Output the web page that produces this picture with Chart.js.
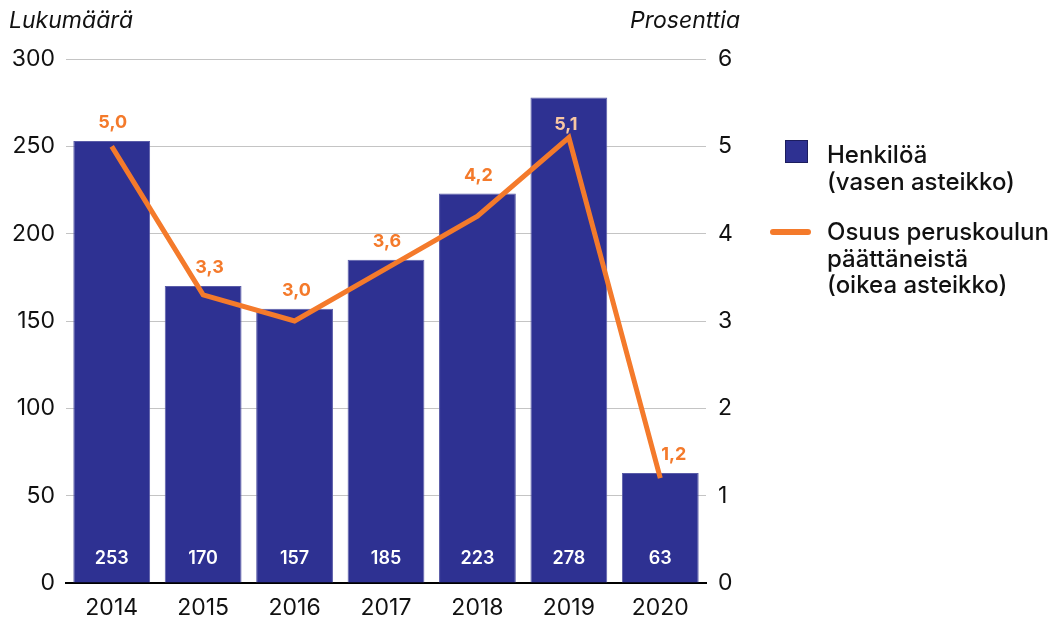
<!DOCTYPE html>
<html lang="fi">
<head>
<meta charset="utf-8">
<script src="https://cdn.jsdelivr.net/npm/chart.js@4"></script>
<style>
  html, body { margin: 0; padding: 0; background: #fff; }
  body { width: 1057px; height: 620px; position: relative; overflow: hidden; font-family: Inter, 'Noto Sans', sans-serif; }
  #wrap { position: absolute; left: 0; top: 0; width: 1057px; height: 620px; }
  .legend-item { position: absolute; left: 827px; color: #111; font-size: 24px; font-weight: 500; line-height: 26.5px; white-space: nowrap; }
  .swatch-bar { position: absolute; left: -42px; top: -2px; width: 21px; height: 21px; background: #2e3192; border: 1px solid #1c1d5e; }
  .swatch-line { position: absolute; left: -57px; top: 10px; width: 41px; height: 6px; border-radius: 3px; background: #f47a2b; }
</style>
</head>
<body>
<div id="wrap"><canvas id="chart" width="1057" height="620"></canvas></div>
<div class="legend-item" style="top: 142px;"><span class="swatch-bar"></span>Henkilöä<br>(vasen asteikko)</div>
<div class="legend-item" style="top: 219px;"><span class="swatch-line"></span>Osuus peruskoulun<br>päättäneistä<br>(oikea asteikko)</div>
<script>
const years = ['2014', '2015', '2016', '2017', '2018', '2019', '2020'];
const henkiloa = [253, 170, 157, 185, 223, 278, 63];
const osuus = [5.0, 3.3, 3.0, 3.6, 4.2, 5.1, 1.2];
const leftTicks = [0, 50, 100, 150, 200, 250, 300];
const rightTicks = [0, 1, 2, 3, 4, 5, 6];

const BAR_COLOR = '#2e3192';
const LINE_COLOR = '#f47a2b';
const FONT = 'Inter, "Noto Sans", sans-serif';

function fmt(v) {
  return v.toFixed(1).replace('.', ',');
}

// arvot pylväiden sisään ja viivan arvot pylvään / pisteen yläpuolelle
const labelPlugin = {
  id: 'labels',
  afterDatasetsDraw(chart) {
    const ctx = chart.ctx;
    const bars = chart.getDatasetMeta(0).data;
    const pts = chart.getDatasetMeta(1).data;
    const yBottom = chart.scales.y.bottom;
    ctx.save();
    ctx.textAlign = 'center';
    ctx.textBaseline = 'middle';
    ctx.font = '600 18px ' + FONT;
    ctx.fillStyle = '#fff';
    bars.forEach((bar, i) => {
      ctx.fillText(String(henkiloa[i]), bar.x, yBottom - 24);
    });
    ctx.font = '700 18px ' + FONT;
    pts.forEach((p, i) => {
      const bar = bars[i];
      // laskeva viiva -> arvo hieman oikealle, ettei viiva peitä sitä
      const drop = i > 0 ? Math.max(0, osuus[i - 1] - osuus[i]) : 0;
      const dx = 1 + drop * 3.2;
      if (p.y - bar.y > 30) {
        // arvo pylvään sisällä -> vaaleampi sävy
        ctx.fillStyle = '#f8c7a3';
        ctx.fillText(fmt(osuus[i]), p.x - 3, p.y - 13);
      } else {
        ctx.fillStyle = LINE_COLOR;
        ctx.fillText(fmt(osuus[i]), p.x + dx, Math.min(bar.y, p.y) - 18);
      }
    });
    ctx.restore();
  },
  afterDraw(chart) {
    const ctx = chart.ctx;
    ctx.save();
    ctx.font = 'italic 23px ' + FONT;
    ctx.fillStyle = '#111';
    ctx.textBaseline = 'middle';
    ctx.textAlign = 'left';
    ctx.fillText('Lukumäärä', 9, 21);
    ctx.textAlign = 'right';
    ctx.fillText('Prosenttia', 740, 21);
    ctx.restore();
  }
};

new Chart(document.getElementById('chart'), {
  data: {
    labels: years,
    datasets: [
      {
        type: 'bar',
        label: 'Henkilöä',
        data: henkiloa,
        backgroundColor: BAR_COLOR,
        borderColor: '#5a5ca8',
        borderWidth: { top: 1, left: 1, right: 1, bottom: 0 },
        yAxisID: 'y',
        categoryPercentage: 0.84,
        barPercentage: 1,
        order: 2,
      },
      {
        type: 'line',
        label: 'Osuus peruskoulun päättäneistä',
        data: osuus,
        borderColor: LINE_COLOR,
        borderWidth: 5,
        tension: 0,
        pointRadius: 0,
        yAxisID: 'y1',
        order: 1,
      },
    ],
  },
  options: {
    responsive: false,
    animation: false,
    layout: { padding: { left: 10, right: 301, top: 59, bottom: 0 } },
    plugins: { legend: { display: false }, tooltip: { enabled: false } },
    scales: {
      x: {
        afterFit: (s) => { s.height = 37; },
        grid: { display: false },
        border: { display: true, color: '#000', width: 2 },
        ticks: { color: '#111', font: { family: FONT, size: 23 }, padding: 3 },
      },
      y: {
        position: 'left',
        min: 0,
        max: 300,
        afterBuildTicks: (s) => { s.ticks = leftTicks.map((v) => ({ value: v })); },
        afterFit: (s) => { s.width = 56; },
        grid: { color: '#c4c4c4', lineWidth: 1, drawTicks: false },
        border: { display: false },
        ticks: { color: '#111', font: { family: FONT, size: 23 }, padding: 11 },
      },
      y1: {
        position: 'right',
        min: 0,
        max: 6,
        afterBuildTicks: (s) => { s.ticks = rightTicks.map((v) => ({ value: v })); },
        afterFit: (s) => { s.width = 50; },
        grid: { display: false, drawTicks: false },
        border: { display: false },
        ticks: { color: '#111', font: { family: FONT, size: 23 }, padding: 12 },
      },
    },
  },
  plugins: [labelPlugin],
});
</script>
</body>
</html>
